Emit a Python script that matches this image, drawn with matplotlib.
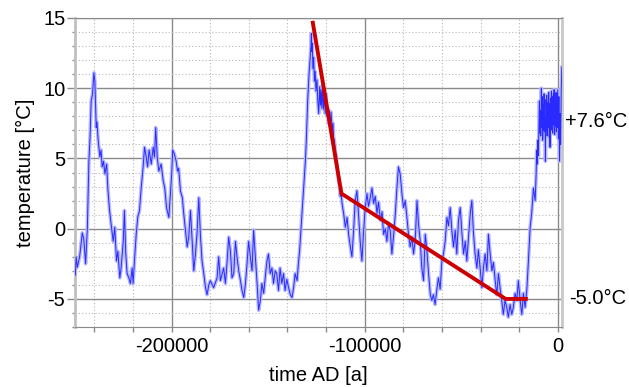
import matplotlib
matplotlib.use("Agg")
import matplotlib.pyplot as plt
from matplotlib.ticker import MultipleLocator, FixedLocator

plt.rcParams['font.family'] = ['Liberation Sans', 'DejaVu Sans']
plt.rcParams['axes.unicode_minus'] = False

# ice core temperature record (age in kyr, temperature in °C)
age_kyr = [
    -249.8, -249.4, -248.8, -247.6, -246.2, -245.4, -244.5, -243.6, -242.8, -242.2,
    -241.6, -240.9, -240.2, -239.7, -239.0, -238.6, -238.0, -237.1, -236.5, -235.9,
    -235.2, -234.5, -233.6, -233.0, -232.1, -231.1, -230.2, -229.4, -228.5, -227.8,
    -226.8, -226.1, -225.0, -224.4, -223.7, -223.0, -222.1, -221.3, -220.4, -219.9,
    -219.2, -218.3, -217.5, -216.6, -215.7, -214.7, -214.0, -213.1, -212.4, -211.6,
    -210.5, -209.5, -208.8, -208.2, -207.4, -206.6, -205.4, -204.3, -203.5, -202.6,
    -201.4, -200.6, -199.9, -199.4, -198.5, -197.6, -196.9, -196.3, -195.4, -194.4,
    -193.7, -192.8, -191.9, -191.1, -190.2, -189.3, -188.5, -187.6, -186.7, -185.9,
    -185.0, -184.2, -183.3, -182.4, -181.6, -180.7, -179.9, -178.2, -176.4, -175.6,
    -174.7, -173.0, -172.1, -171.2, -170.4, -169.5, -168.7, -167.8, -166.9, -166.1,
    -165.2, -164.3, -163.5, -162.6, -161.8, -160.9, -160.1, -159.2, -158.3, -157.5,
    -156.6, -155.7, -154.9, -154.0, -153.2, -152.3, -151.5, -150.6, -149.8, -148.9,
    -148.0, -147.2, -146.3, -145.5, -144.6, -143.8, -142.9, -142.0, -141.2, -140.3,
    -139.4, -138.5, -137.6, -136.8, -136.0, -135.0, -134.2, -133.7, -133.0, -132.4,
    -131.6, -130.7, -130.2, -129.5, -128.8, -128.1, -127.8, -127.6, -127.3, -127.1,
    -126.8, -126.4, -126.0, -125.6, -125.2, -124.7, -124.3, -123.8, -123.3, -122.9,
    -122.6, -122.2, -121.8, -121.4, -120.9, -120.4, -120.0, -119.6, -119.2, -118.7,
    -118.3, -117.8, -117.4, -116.8, -116.4, -116.1, -115.6, -115.2, -114.8, -114.3,
    -113.9, -113.5, -113.0, -112.6, -112.2, -111.7, -110.9, -110.0, -109.1, -108.3,
    -107.4, -106.6, -105.7, -104.9, -104.0, -103.2, -102.3, -101.4, -100.6, -99.7,
    -98.8, -98.0, -97.1, -96.2, -95.4, -94.5, -93.6, -92.8, -91.9, -91.0,
    -90.2, -89.3, -88.5, -87.6, -86.7, -85.9, -85.0, -84.1, -83.3, -82.5,
    -81.6, -80.7, -79.9, -79.0, -78.1, -77.3, -76.4, -75.5, -74.7, -73.8,
    -72.9, -72.1, -71.2, -70.4, -69.5, -68.6, -67.8, -66.9, -66.0, -65.2,
    -64.4, -63.5, -62.6, -61.8, -60.9, -60.0, -59.2, -58.3, -57.4, -56.6,
    -55.7, -54.8, -54.0, -53.1, -52.3, -51.4, -50.5, -49.7, -48.8, -47.9,
    -47.1, -46.2, -45.3, -44.5, -43.7, -42.8, -41.9, -41.1, -40.2, -39.3,
    -38.5, -37.6, -36.7, -35.9, -35.0, -34.1, -33.3, -32.4, -31.6, -30.7,
    -29.9, -29.0, -28.2, -27.3, -26.4, -25.6, -24.7, -23.8, -23.0, -22.1,
    -21.2, -20.4, -19.5, -18.6, -17.8, -16.9, -16.0, -15.2, -14.3, -13.5,
    -12.6, -11.7, -11.2, -10.9, -10.6, -10.3, -10.0, -9.8, -9.5, -9.3,
    -9.0, -8.8, -8.5, -8.3, -8.0, -7.8, -7.5, -7.3, -7.1, -6.9,
    -6.6, -6.4, -6.2, -6.0, -5.7, -5.5, -5.2, -4.9, -4.7, -4.4,
    -4.2, -4.0, -3.8, -3.5, -3.3, -3.1, -2.8, -2.6, -2.3, -2.1,
    -1.9, -1.6, -1.4, -1.2, -0.9, -0.7, -0.5, -0.3, 0.0, 0.3,
    0.6, 0.9, 1.2, 1.5, 1.8, 2.1,
]
temp_c = [
    -3.3, -2.0, -2.75, -2.0, -0.3, -0.8, -2.5, 0.0, 4.8, 6.5,
    9.1, 9.6, 11.1, 10.5, 7.2, 7.6, 6.3, 5.1, 5.6, 4.4,
    4.8, 3.9, 4.6, 2.9, 1.3, 0.1, -0.9, 0.1, -2.3, -1.6,
    -3.5, -2.8, -0.9, 1.3, -1.8, -3.2, -3.5, -3.9, -2.8, -3.9,
    -2.3, -0.4, 0.8, 1.3, 2.9, 4.4, 5.8, 5.1, 4.4, 5.6,
    4.6, 5.8, 5.1, 7.2, 5.1, 4.1, 4.6, 3.4, 2.9, 1.5,
    0.8, 2.5, 3.9, 5.6, 5.3, 4.8, 4.1, 4.3, 2.7, 2.2,
    1.1, -0.1, -1.3, -0.6, 1.3, -0.9, -3.0, -1.8, -0.1, 2.2,
    -0.6, -2.3, -3.2, -4.2, -4.7, -4.0, -3.7, -4.2, -3.5, -2.0,
    -3.7, -2.8, -3.9, -2.3, -0.6, -1.6, -3.5, -3.2, -0.9, -2.0,
    -3.0, -3.7, -4.4, -4.9, -4.0, -2.5, -0.9, -2.0, -3.0, -0.1,
    -2.0, -3.9, -5.8, -5.1, -3.9, -4.6, -3.5, -2.3, -1.8, -3.2,
    -2.8, -3.9, -3.0, -3.2, -4.4, -2.8, -3.9, -3.2, -4.4, -3.6,
    -4.2, -4.7, -4.9, -4.2, -3.2, -3.7, -2.3, -1.6, -0.1, 1.1,
    2.9, 4.8, 6.3, 9.1, 11.0, 12.4, 13.0, 13.9, 12.6, 13.2,
    11.4, 12.2, 10.5, 11.2, 9.8, 10.6, 9.2, 8.2, 10.1, 8.8,
    9.9, 8.6, 10.2, 8.5, 9.4, 8.2, 9.6, 8.0, 8.6, 7.5,
    8.4, 7.3, 8.3, 7.0, 7.5, 6.5, 6.2, 5.5, 5.2, 4.4,
    4.0, 3.4, 3.0, 2.3, 2.6, 1.8, 1.1, 0.1, 0.8, -0.4,
    -1.3, -2.0, -0.1, 2.0, 2.7, 1.1, -0.9, -2.3, -0.3, 1.5,
    2.5, 1.6, 2.2, 2.9, 1.8, 2.3, 1.1, 1.9, 0.6, 1.2,
    -0.4, 0.0, -0.9, 0.4, -0.2, -1.8, -0.5, 1.1, 2.9, 4.4,
    3.9, 2.5, 1.5, 2.0, 0.8, -0.4, -1.3, -0.6, -1.8, -0.8,
    2.0, 0.3, -0.9, -2.8, -3.7, -0.4, -1.5, -3.2, -4.7, -5.1,
    -4.7, -5.4, -4.3, -3.5, -4.3, -2.3, -1.8, -0.9, 0.8, 0.2,
    1.5, -0.2, -1.3, -0.1, -1.8, 0.6, 1.5, -0.2, -1.8, -0.9,
    -2.3, -0.6, 1.1, 2.0, -0.2, -1.8, -2.8, -1.5, -2.8, -4.2,
    -2.8, -1.8, -3.0, -0.4, -1.8, -3.0, -2.4, -3.7, -4.7, -3.2,
    -4.2, -5.1, -6.1, -5.1, -5.6, -6.3, -5.4, -6.1, -5.6, -4.6,
    -5.1, -3.7, -5.1, -6.1, -4.6, -5.6, -4.3, -2.3, 0.1, 1.1,
    2.9, 2.0, 3.9, 5.6, 4.6, 6.3, 5.2, 7.0, 9.1, 6.8,
    8.4, 6.6, 10.0, 7.2, 9.4, 6.3, 8.8, 7.0, 9.6, 6.9,
    9.2, 4.8, 8.0, 7.0, 9.5, 6.6, 9.0, 7.2, 9.7, 6.5,
    8.9, 5.8, 9.3, 7.0, 9.8, 7.1, 9.4, 6.8, 9.6, 7.4,
    9.9, 6.7, 9.2, 7.3, 9.7, 6.9, 9.6, 7.2, 9.9, 6.4,
    9.4, 4.8, 8.2, 6.0, 9.8, 11.5,
]

# red trend segments
trend_kyr = [-127.0, -112.0, -27.0, -15.5]
trend_c = [14.8, 2.5, -5.0, -5.0]

notes = ['+7.6°C', '-5.0°C']
note_vals = [7.6, -5.0]

years = [a * 1000 for a in age_kyr]
trend_years = [a * 1000 for a in trend_kyr]

fig = plt.figure(figsize=(6.29, 3.87), dpi=100)
ax = fig.add_axes([0.1192, 0.155, 0.7743, 0.7985])

ax.plot(years, temp_c, color='#b4b8ff', lw=2.6, zorder=2)
ax.plot(years, temp_c, color='#2a2aff', lw=0.7, zorder=3)
ax.plot(trend_years, trend_c, color='#cc0000', lw=2.8, zorder=4,
        solid_capstyle='butt', solid_joinstyle='miter')

ax.set_xlim(-250000, 2200)
ax.set_ylim(-7, 15)
ax.xaxis.set_major_locator(FixedLocator([-200000, -100000, 0]))
ax.xaxis.set_minor_locator(MultipleLocator(20000))
ax.yaxis.set_major_locator(MultipleLocator(5))
ax.yaxis.set_minor_locator(MultipleLocator(1))

ax.grid(which='major', color='#8a8a8a', lw=1.0)
ax.grid(which='minor', color='#b8b8b8', lw=0.8, linestyle=(0, (1, 2)))
ax.set_axisbelow(True)

for side in ['top', 'bottom', 'right']:
    ax.spines[side].set_color('#8a8a8a')
ax.spines['left'].set_color('#c0c0c0')
ax.spines['left'].set_linewidth(2.0)
ax.spines['right'].set_color('#c8c8c8')
ax.spines['right'].set_linewidth(2.0)

ax.tick_params(which='major', axis='y', length=6, width=1, color='#8a8a8a',
               labelsize=14.5, pad=1)
ax.tick_params(which='minor', axis='y', length=2.5, width=1, color='#8a8a8a')
ax.tick_params(which='both', axis='x', length=3.5, width=1, color='#8a8a8a',
               labelsize=14.5, pad=4)

ax.set_ylabel('temperature [°C]', fontsize=14.5, labelpad=6)
ax.set_xlabel('time AD [a]', fontsize=14.5, labelpad=7)

tr = ax.get_yaxis_transform()
ax.text(1.006, note_vals[0], notes[0], transform=tr, fontsize=14.5,
        va='center', ha='left')
ax.text(1.014, note_vals[1], notes[1], transform=tr, fontsize=14.5,
        va='center', ha='left')

fig.savefig('out.png', dpi=100)
